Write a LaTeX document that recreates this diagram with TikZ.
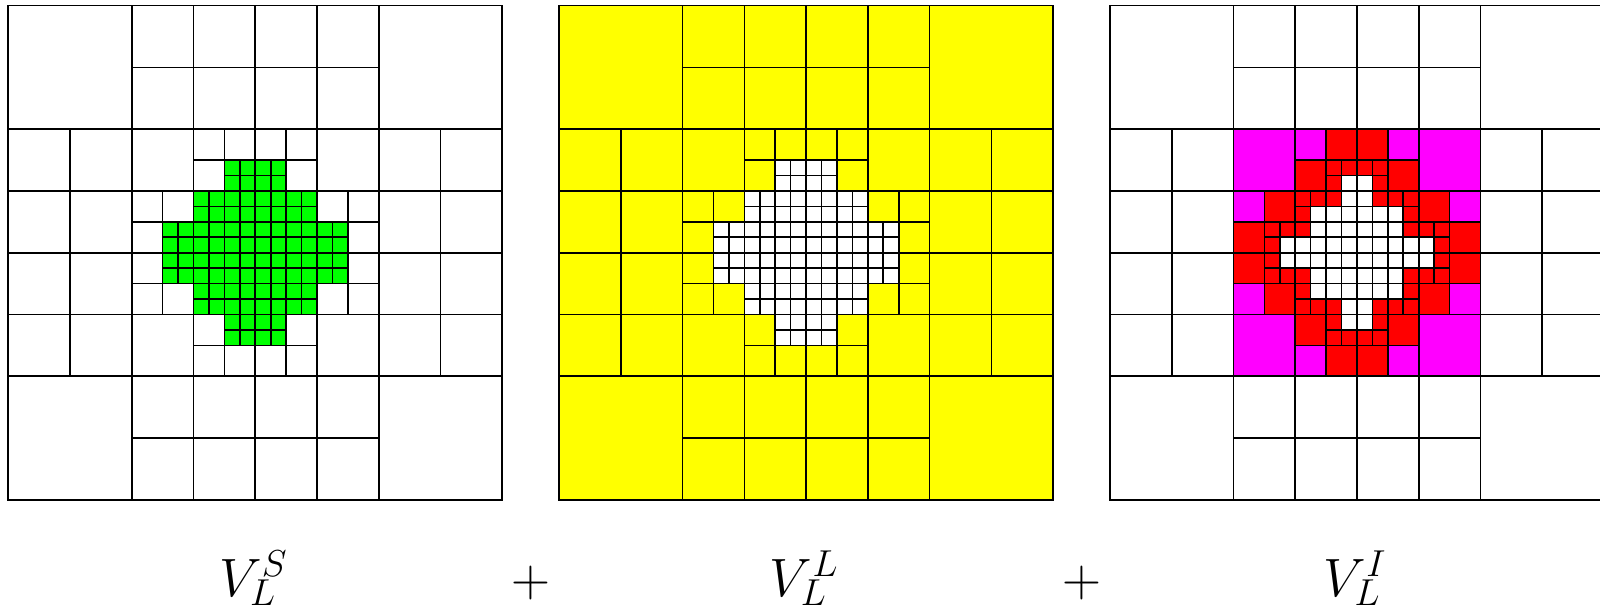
\documentclass[tikz,border=0pt]{standalone}
\usetikzlibrary{calc}
\definecolor{meshGreen}{RGB}{0,255,0}
\definecolor{meshYellow}{RGB}{255,255,0}
\definecolor{meshRed}{RGB}{255,0,0}
\definecolor{meshMagenta}{RGB}{255,0,255}
\DeclareMathSizes{30.3}{30.3}{18.5}{12}
\tikzset{
    cell/.style={draw=black, line width=0.75pt},
    setlabel/.style={font=\fontsize{30.3}{36}\selectfont, anchor=base, inner sep=0pt},
}
\newcommand{\lowsub}[1]{\raisebox{2.3pt}{$\scriptstyle #1$}}
% 2x2 corner cells
\newcommand{\bigcells}[1]{%
  \foreach \x/\y in {0/0,6/0,0/6,6/6}
    \draw[cell, fill=#1] (\x,\y) rectangle ++(2,2);}
% 1x1 cells: outer ring (#1), corners of the centre (#2)
\newcommand{\unitcells}[2]{%
  \foreach \x in {2,...,5} \foreach \y in {0,1,6,7}
    \draw[cell, fill=#1] (\x,\y) rectangle ++(1,1);
  \foreach \x in {0,1,6,7} \foreach \y in {2,...,5}
    \draw[cell, fill=#1] (\x,\y) rectangle ++(1,1);
  \foreach \x/\y in {2/2,5/2,2/5,5/5}
    \draw[cell, fill=#2] (\x,\y) rectangle ++(1,1);}
% half cells: outer group (#1), inner group (#2)
\newcommand{\halfcells}[2]{%
  \foreach \x/\y in {3/5.5,4.5/5.5,2/4.5,2/3,5.5/4.5,5.5/3,3/2,4.5/2}
    \draw[cell, fill=#1] (\x,\y) rectangle ++(0.5,0.5);
  \foreach \x/\y in {3.5/5.5,4/5.5,3/5,4.5/5,2.5/4.5,2/4,2/3.5,2.5/3,
                     5/4.5,5.5/4,5.5/3.5,5/3,3/2.5,4.5/2.5,3.5/2,4/2}
    \draw[cell, fill=#2] (\x,\y) rectangle ++(0.5,0.5);}
% small cells
\newcommand{\finecells}[1]{%
  \foreach \x/\y in {3.5/5,4/5,2.5/4,2.5/3.5,5/4,5/3.5,3.5/2.5,4/2.5}
    \foreach \i in {0,0.25} \foreach \j in {0,0.25}
      \draw[cell, fill=#1] (\x+\i,\y+\j) rectangle ++(0.25,0.25);
  \foreach \x/\y in {3/3,3/4,4/3,4/4}
    \foreach \i in {0,0.25,0.5,0.75} \foreach \j in {0,0.25,0.5,0.75}
      \draw[cell, fill=#1] (\x+\i,\y+\j) rectangle ++(0.25,0.25);}
% small cells away from the interface
\newcommand{\innercells}[1]{%
  \foreach \y in {2.75,3,4.75,5} \foreach \x in {3.75,4}
    \draw[cell, fill=#1] (\x,\y) rectangle ++(0.25,0.25);
  \foreach \y in {3.25,3.5,4.25,4.5} \foreach \x in {3.25,3.5,3.75,4,4.25,4.5}
    \draw[cell, fill=#1] (\x,\y) rectangle ++(0.25,0.25);
  \foreach \y in {3.75,4} \foreach \x in {2.75,3,3.25,3.5,3.75,4,4.25,4.5,4.75,5}
    \draw[cell, fill=#1] (\x,\y) rectangle ++(0.25,0.25);}

\begin{document}
\begin{tikzpicture}

\useasboundingbox (-0.134,-1.846) rectangle (25.776,8.092);

% Small part
\begin{scope}
  \bigcells{white}
  \unitcells{white}{white}
  \halfcells{white}{white}
  \finecells{meshGreen}
\end{scope}

% Large part
\begin{scope}[xshift=8.92cm]
  \bigcells{meshYellow}
  \unitcells{meshYellow}{meshYellow}
  \halfcells{meshYellow}{meshYellow}
  \finecells{white}
\end{scope}

% Interface part
\begin{scope}[xshift=17.84cm]
  \bigcells{white}
  \unitcells{white}{meshMagenta}
  \halfcells{meshMagenta}{meshRed}
  \finecells{meshRed}
  \innercells{white}
\end{scope}

% Labels
\node[setlabel] (labelS) at (3.97,-1.565) {$V^S_{\lowsub{L}}$};
\node[setlabel] (plusA) at (8.46,-1.565) {$+$};
\node[setlabel] (labelL) at (12.89,-1.565) {$V^L_{\lowsub{L}}$};
\node[setlabel] (plusB) at (17.38,-1.565) {$+$};
\node[setlabel] (labelI) at (21.81,-1.565) {$V^I_{\lowsub{L}}$};

\end{tikzpicture}
\end{document}
